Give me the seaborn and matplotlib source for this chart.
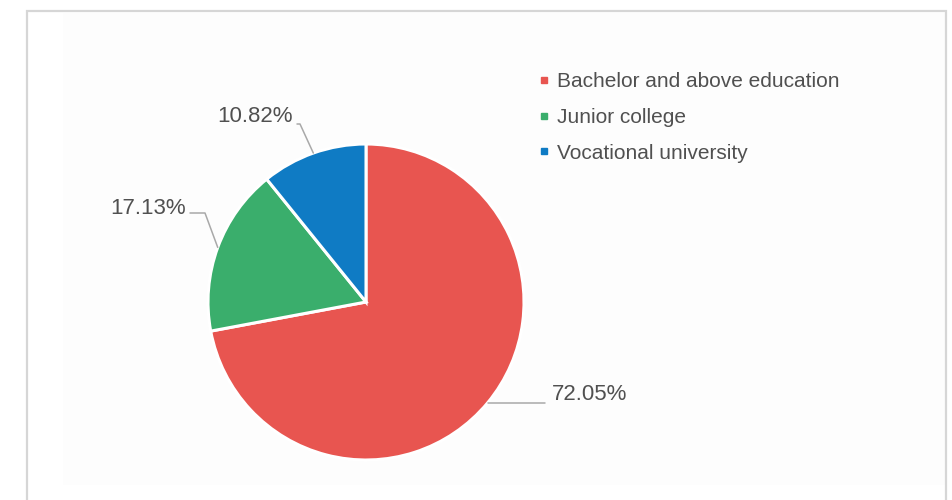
import numpy as np
import matplotlib
matplotlib.use("Agg")
import matplotlib.pyplot as plt
from matplotlib.lines import Line2D
from matplotlib.patches import Rectangle
import seaborn as sns

# Education level shares (percent)
categories = ["Bachelor and above education", "Junior college", "Vocational university"]
shares = [72.05, 17.13, 10.82]
share_labels = ["72.05%", "17.13%", "10.82%"]
colors = ["#e85550", "#3aae6c", "#0f7bc4"]

sns.set_theme(style="white")
plt.rcParams["font.family"] = ["Liberation Sans", "DejaVu Sans"]

W, H = 952, 500
fig = plt.figure(figsize=(W / 100, H / 100), dpi=100)
ax = fig.add_axes([0, 0, 1, 1])
ax.set_xlim(0, W)
ax.set_ylim(0, H)
ax.set_aspect("equal")
ax.axis("off")

# panel frame and faint inner shading
ax.add_patch(Rectangle((63, H - 485), 882, 472, facecolor="#fdfdfd",
                       edgecolor="none", zorder=0.5))
ax.add_patch(Rectangle((27, -10), 919, H - 11 + 10, facecolor="none",
                       edgecolor="#d6d6d6", linewidth=1.6, zorder=1))

cx, cy, r = 366, H - 302, 158
wedges, _ = ax.pie(shares, colors=colors, startangle=90, counterclock=False,
                   center=(cx, cy), radius=r, frame=True,
                   wedgeprops=dict(edgecolor="white", linewidth=2.2))
ax.set_xlim(0, W)
ax.set_ylim(0, H)
ax.axis("off")

# leader lines from each wedge's mid-angle to its label
line_kw = dict(color="#a9a9a9", linewidth=1.1, zorder=3)
label_kw = dict(fontsize=16, color="#505050", zorder=4)
bends = {
    0: [(545, None)],
    1: [(205, H - 213), (190, H - 213)],
    2: [(300, H - 124), (297, H - 124)],
}
text_pos = {
    0: (552, H - 400, "left"),
    1: (186, H - 214, "right"),
    2: (293, H - 122, "right"),
}
for i, w in enumerate(wedges):
    mid = np.deg2rad((w.theta1 + w.theta2) / 2)
    ex, ey = cx + r * np.cos(mid), cy + r * np.sin(mid)
    xs, ys = [ex], [ey]
    for bx, by in bends[i]:
        xs.append(bx)
        ys.append(ey if by is None else by)
    ax.plot(xs, ys, **line_kw)
    tx, ty, ha = text_pos[i]
    ax.text(tx, ty, share_labels[i], ha=ha, va="baseline", **label_kw)

handles = [Line2D([], [], marker="s", linestyle="none", markersize=4.5,
                  markerfacecolor=c, markeredgecolor=c) for c in colors]
ax.legend(handles, categories, loc="upper left", bbox_to_anchor=(527, H - 62),
          bbox_transform=ax.transData, frameon=False, fontsize=15,
          labelcolor="#505050", handlelength=0.6, handletextpad=0.35,
          labelspacing=0.8, borderpad=0)

fig.savefig("out.png", dpi=100, facecolor="white")
